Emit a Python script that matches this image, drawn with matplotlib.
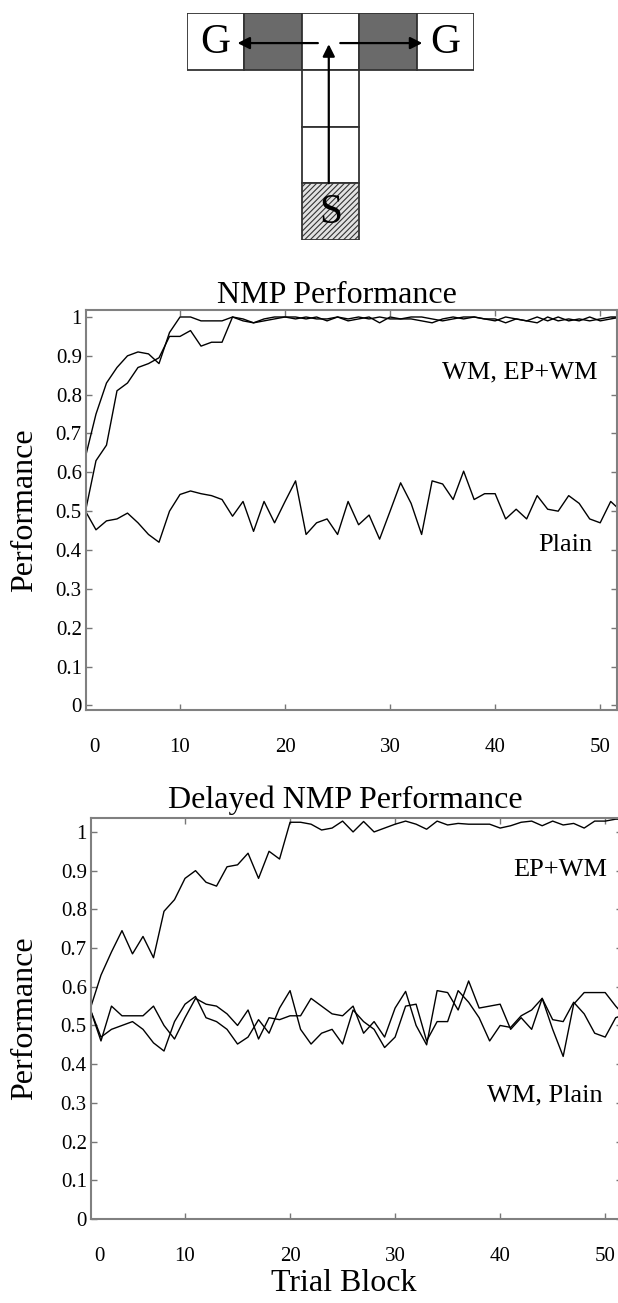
import numpy as np
import matplotlib
matplotlib.use("Agg")
import matplotlib.pyplot as plt
from matplotlib.patches import Rectangle

plt.rcParams['font.family'] = ['Liberation Serif', 'DejaVu Serif']
plt.rcParams['hatch.color'] = '#9a9a9a'
plt.rcParams['hatch.linewidth'] = 0.8

# ---- data ----
blocks = list(range(1, 53))
xtick_pos = [1.9, 10, 20, 30, 40, 50]
xtick_lab = ['0', '10', '20', '30', '40', '50']
ytick_pos = [0, 0.1, 0.2, 0.3, 0.4, 0.5, 0.6, 0.7, 0.8, 0.9, 1.0]
ytick_lab = ['0', '0.1', '0.2', '0.3', '0.4', '0.5', '0.6', '0.7', '0.8', '0.9', '1']

nmp_wm = [0.64, 0.75, 0.83, 0.87, 0.90, 0.91, 0.905, 0.88, 0.96, 1.0,
          1.0, 0.99, 0.99, 0.99, 1.0, 0.995, 0.985, 0.995, 1.0, 1.0,
          1.0, 0.995, 1.0, 0.99, 1.0, 0.995, 1.0, 0.995, 1.0, 0.995,
          0.995, 0.995, 0.99, 0.985, 0.995, 1.0, 0.995, 1.0, 0.995, 0.995,
          0.985, 0.995, 0.99, 1.0, 0.99, 1.0, 0.99, 0.995, 0.99, 0.995,
          1.0, 1.0]
nmp_epwm = [0.50, 0.63, 0.67, 0.81, 0.83, 0.87, 0.88, 0.895, 0.95, 0.95,
            0.965, 0.925, 0.935, 0.935, 1.0, 0.99, 0.985, 0.99, 0.995, 1.0,
            0.995, 1.0, 0.995, 0.995, 1.0, 0.99, 0.995, 1.0, 0.985, 1.0,
            0.995, 1.0, 1.0, 0.995, 0.99, 0.995, 1.0, 1.0, 0.995, 0.99,
            1.0, 0.995, 0.99, 0.985, 1.0, 0.99, 0.995, 0.99, 1.0, 0.99,
            0.995, 1.0]
nmp_plain = [0.50, 0.452, 0.475, 0.48, 0.495, 0.47, 0.44, 0.42, 0.50, 0.543,
             0.552, 0.545, 0.54, 0.53, 0.487, 0.525, 0.448, 0.525, 0.47, 0.525,
             0.578, 0.44, 0.47, 0.48, 0.44, 0.525, 0.465, 0.49, 0.428, 0.50,
             0.573, 0.52, 0.44, 0.578, 0.57, 0.53, 0.603, 0.53, 0.545, 0.545,
             0.48, 0.505, 0.48, 0.54, 0.505, 0.50, 0.54, 0.52, 0.48, 0.47,
             0.525, 0.50]

dnmp_epwm = [0.545, 0.63, 0.69, 0.745, 0.685, 0.73, 0.675, 0.795, 0.825, 0.88,
             0.90, 0.87, 0.86, 0.91, 0.915, 0.945, 0.88, 0.95, 0.93, 1.025,
             1.025, 1.02, 1.005, 1.01, 1.028, 1.0, 1.027, 1.0, 1.01, 1.02,
             1.028, 1.02, 1.007, 1.028, 1.018, 1.022, 1.02, 1.02, 1.02, 1.01,
             1.016, 1.025, 1.028, 1.016, 1.028, 1.018, 1.022, 1.01, 1.028, 1.028,
             1.033, 1.033]
dnmp_wm = [0.54, 0.47, 0.49, 0.50, 0.51, 0.49, 0.455, 0.434, 0.51, 0.555,
           0.575, 0.52, 0.51, 0.49, 0.452, 0.47, 0.515, 0.48, 0.545, 0.59,
           0.49, 0.452, 0.48, 0.49, 0.452, 0.54, 0.51, 0.49, 0.443, 0.47,
           0.55, 0.555, 0.46, 0.51, 0.51, 0.59, 0.56, 0.52, 0.46, 0.50,
           0.495, 0.525, 0.54, 0.57, 0.49, 0.42, 0.555, 0.585, 0.585, 0.585,
           0.55, 0.52]
dnmp_plain = [0.54, 0.46, 0.55, 0.525, 0.525, 0.525, 0.55, 0.50, 0.465, 0.52,
              0.57, 0.555, 0.55, 0.53, 0.50, 0.54, 0.465, 0.52, 0.515, 0.525,
              0.525, 0.57, 0.55, 0.53, 0.525, 0.55, 0.48, 0.51, 0.47, 0.545,
              0.588, 0.50, 0.45, 0.59, 0.585, 0.54, 0.615, 0.545, 0.55, 0.555,
              0.49, 0.52, 0.49, 0.57, 0.515, 0.51, 0.56, 0.53, 0.48, 0.47,
              0.52, 0.53]

# T-maze layout: (col, row, fill)
maze_cells = [(0, 0, 'white'), (1, 0, '#6a6a6a'), (2, 0, 'white'), (3, 0, '#6a6a6a'),
              (4, 0, 'white'), (2, 1, 'white'), (2, 2, 'white'), (2, 3, '#e2e2e2')]

W, H = 618, 1303
fig = plt.figure(figsize=(W / 100, H / 100), dpi=100)

# ---- T-maze diagram ----
axm = fig.add_axes([187 / W, 1 - 240 / H, 287 / W, 227 / H])
axm.set_xlim(0, 5)
axm.set_ylim(4, 0)
axm.axis('off')
for c, r, fc in maze_cells:
    hatch = '//////' if r == 3 else None
    axm.add_patch(Rectangle((c, r), 1, 1, facecolor=fc, edgecolor='#333333',
                            lw=1.3, hatch=hatch))
axm.text(0.5, 0.52, 'G', fontsize=30, ha='center', va='center')
axm.text(4.5, 0.52, 'G', fontsize=30, ha='center', va='center')
axm.text(2.5, 3.52, 'S', fontsize=30, ha='center', va='center')
arr = dict(arrowstyle='-|>', mutation_scale=18, lw=1.6, color='black',
           shrinkA=0, shrinkB=0)
axm.annotate('', xy=(2.47, 0.55), xytext=(2.47, 3.0), arrowprops=arr)
axm.annotate('', xy=(0.88, 0.53), xytext=(2.28, 0.53), arrowprops=arr)
axm.annotate('', xy=(4.1, 0.53), xytext=(2.67, 0.53), arrowprops=arr)


def style(ax, ylim):
    ax.set_xlim(1.05, 51.6)
    ax.set_ylim(*ylim)
    ax.set_xticks(xtick_pos)
    ax.set_xticklabels(xtick_lab)
    ax.set_yticks(ytick_pos)
    ax.set_yticklabels(ytick_lab)
    ax.tick_params(direction='in', length=4, width=1, color='#777777',
                   labelsize=15, top=True, right=True)
    ax.tick_params(axis='x', pad=20)
    ax.tick_params(axis='y', pad=3)
    ax.xaxis.get_major_ticks()[0].tick1line.set_visible(False)
    ax.xaxis.get_major_ticks()[0].tick2line.set_visible(False)
    for s in ax.spines.values():
        s.set_color('#808080')
        s.set_linewidth(1.5)


# ---- NMP Performance ----
ax1 = fig.add_axes([86 / W, 1 - 710 / H, 531 / W, 400 / H])
for series in (nmp_wm, nmp_epwm, nmp_plain):
    ax1.plot(blocks, series, color='black', lw=1.0)
style(ax1, (-0.012, 1.018))
ax1.set_title('NMP Performance', fontsize=23, x=0.473, pad=5)
ax1.set_ylabel('Performance', fontsize=23, va='center')
ax1.yaxis.set_label_coords(-0.115, 0.5)
ax1.text(0.817, 0.845, 'WM, EP+WM', transform=ax1.transAxes, fontsize=19,
         ha='center', va='center')
ax1.text(0.902, 0.4125, 'Plain', transform=ax1.transAxes, fontsize=19,
         ha='center', va='center')

# ---- Delayed NMP Performance ----
ax2 = fig.add_axes([91 / W, 1 - 1219 / H, 531 / W, 401 / H])
for series in (dnmp_epwm, dnmp_wm, dnmp_plain):
    ax2.plot(blocks, series, color='black', lw=1.0)
style(ax2, (0, 1.036))
ax2.set_title('Delayed NMP Performance', fontsize=23, x=0.478, pad=7)
ax2.set_ylabel('Performance', fontsize=23, va='center')
ax2.yaxis.set_label_coords(-0.125, 0.5)
ax2.set_xlabel('Trial Block', fontsize=23, va='center')
ax2.xaxis.set_label_coords(0.476, -0.162)
ax2.text(0.883, 0.870, 'EP+WM', transform=ax2.transAxes, fontsize=19,
         ha='center', va='center')
ax2.text(0.855, 0.307, 'WM, Plain', transform=ax2.transAxes, fontsize=19,
         ha='center', va='center')

fig.savefig('out.png', dpi=100)
